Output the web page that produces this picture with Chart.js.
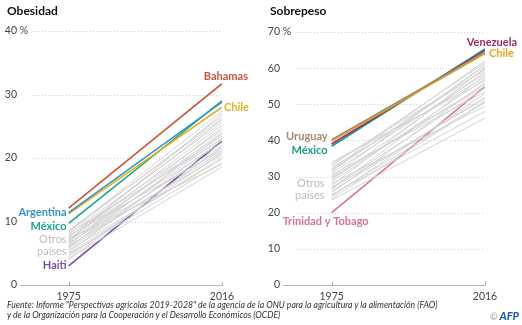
<!DOCTYPE html>
<html>
<head>
<meta charset="utf-8">
<script src="https://cdn.jsdelivr.net/npm/chart.js@4.4.1/dist/chart.umd.min.js"></script>
<style>
  body { margin: 0; background: #fff; font-family: Lato, sans-serif; }
  #wrap { position: relative; width: 522px; height: 325px; overflow: hidden; }
  canvas { position: absolute; top: 0; }
  .title { position: absolute; top: 3px; font-weight: bold; font-size: 12px; color: #111; }
  .foot { position: absolute; left: 7px; font-size: 8.7px; font-style: italic; color: #333; white-space: nowrap; }
  #afp { position: absolute; right: 3px; top: 309px; font-size: 11px; font-weight: 900; font-style: italic; color: #1d5fb4; }
  #afp span { color: #999; font-weight: normal; font-style: normal; font-size: 9px; }
</style>
</head>
<body>
<div id="wrap">
  <canvas id="obesidad" width="260" height="300" style="left:0"></canvas>
  <canvas id="sobrepeso" width="262" height="300" style="left:260px"></canvas>
  <div class="title" style="left:7px">Obesidad</div>
  <div class="title" style="left:270px">Sobrepeso</div>
  <div class="foot" style="top:299px">Fuente: Informe "Perspectivas agrícolas 2019-2028" de la agencia de la ONU para la agricultura y la alimentación (FAO)</div>
  <div class="foot" style="top:309px">y de la Organización para la Cooperación y el Desarrollo Económicos (OCDE)</div>
  <div id="afp"><span>©</span> AFP</div>
</div>
<script>
// DATA
const years = [1975, 2016];

const obesidadPaises = ['Bahamas', 'Argentina', 'Chile', 'México', 'Haiti'];
const obesidad1975 = [12.1, 11.4, 11.2, 9.7, 3.0];
const obesidad2016 = [31.7, 28.8, 28.0, 29.0, 22.7];
const obesidadOtros1975 = [4.2, 4.8, 5.0, 5.5, 5.8, 6.0, 6.2, 6.5, 6.6, 6.8, 7.0, 7.1, 7.3, 7.5, 7.6, 7.8, 8.0, 8.1, 8.3, 8.4, 5.2, 6.3, 4.5, 7.2, 5.9, 8.6, 4.0, 6.9];
const obesidadOtros2016 = [18.6, 19.3, 20.1, 19.8, 21.0, 22.0, 20.5, 23.1, 21.5, 24.0, 22.4, 25.2, 23.5, 26.0, 24.4, 21.2, 25.6, 23.0, 26.6, 27.4, 22.8, 24.8, 20.8, 19.0, 23.8, 26.2, 21.8, 27.0];
const obesidadTicks = [0, 10, 20, 30, 40];

const sobrepesoPaises = ['Uruguay', 'Chile', 'Venezuela', 'México', 'Trinidad y Tobago'];
const sobrepeso1975 = [40.2, 39.8, 39.0, 38.4, 20.0];
const sobrepeso2016 = [64.4, 64.0, 64.9, 65.3, 54.9];
const sobrepesoOtros1975 = [23.5, 24.0, 24.5, 25.0, 25.5, 26.0, 26.5, 27.0, 27.5, 28.0, 28.5, 29.0, 29.5, 30.0, 30.5, 31.0, 31.5, 32.0, 32.5, 33.0, 33.5, 34.0, 26.8, 29.8, 31.8, 24.8];
const sobrepesoOtros2016 = [46.2, 50.5, 53.0, 48.0, 56.0, 52.0, 58.0, 54.5, 60.0, 49.5, 57.0, 59.0, 55.5, 61.0, 53.5, 58.5, 60.5, 62.0, 57.5, 61.5, 59.5, 56.5, 51.5, 55.0, 59.8, 50.8];
const sobrepesoTicks = [0, 10, 20, 30, 40, 50, 60, 70];

const obesidadColores = ['#c9563c', '#3a93c6', '#e3b21f', '#1fa38a', '#7b4ea6'];
const sobrepesoColores = ['#a88a6a', '#e6a920', '#9b2b67', '#1c9c84', '#d9719a'];

const FONT = 'Lato, sans-serif';

function line(a, b) {
  return [{ x: years[0], y: a }, { x: years[1], y: b }];
}

// axis, grid and label drawing
function decorPlugin(ticks, labels, otros) {
  return {
    id: 'decor',
    beforeDatasetsDraw(chart) {
      const ctx = chart.ctx;
      const xs = chart.scales.x, ys = chart.scales.y;
      const area = chart.chartArea;
      ctx.save();
      // dotted grid
      ctx.strokeStyle = '#cfcfcf';
      ctx.lineWidth = 1;
      ctx.setLineDash([1, 2]);
      ticks.forEach(t => {
        if (t === 0) return;
        const y = Math.round(ys.getPixelForValue(t)) + 0.5;
        ctx.beginPath();
        ctx.moveTo(area.left + 13, y);
        ctx.lineTo(area.right, y);
        ctx.stroke();
      });
      ctx.setLineDash([]);
      // bottom axis
      const yb = Math.round(ys.getPixelForValue(0)) + 0.5;
      ctx.strokeStyle = '#b5b5b5';
      ctx.beginPath();
      ctx.moveTo(area.left, yb);
      ctx.lineTo(area.right, yb);
      years.forEach(yr => {
        const x = Math.round(xs.getPixelForValue(yr)) + 0.5;
        ctx.moveTo(x, yb);
        ctx.lineTo(x, yb - 4);
      });
      ctx.stroke();
      // tick labels
      ctx.fillStyle = '#444';
      ctx.font = '10.5px ' + FONT;
      ctx.textBaseline = 'middle';
      ticks.forEach((t, i) => {
        const y = ys.getPixelForValue(t);
        ctx.textAlign = 'right';
        ctx.fillText(String(t), area.left - 3, y);
        if (i === ticks.length - 1) {
          ctx.textAlign = 'left';
          ctx.fillText(' %', area.left - 3, y);
        }
      });
      ctx.textAlign = 'center';
      years.forEach(yr => {
        ctx.fillText(String(yr), xs.getPixelForValue(yr), yb + 11);
      });
      ctx.restore();
    },
    afterDatasetsDraw(chart) {
      const ctx = chart.ctx;
      const xs = chart.scales.x, ys = chart.scales.y;
      ctx.save();
      ctx.textBaseline = 'middle';
      ctx.font = 'bold 11px ' + FONT;
      labels.forEach(l => {
        const ds = chart.data.datasets[l.ds];
        const p = ds.data[l.at];
        ctx.fillStyle = ds.borderColor;
        ctx.textAlign = l.align;
        ctx.fillText(ds.label, xs.getPixelForValue(p.x) + l.dx, ys.getPixelForValue(p.y) + l.dy);
      });
      ctx.font = '11px ' + FONT;
      ctx.fillStyle = '#bdbdbd';
      ctx.textAlign = 'right';
      ['Otros', 'países'].forEach((w, i) => {
        ctx.fillText(w, xs.getPixelForValue(years[0]) + otros.dx, ys.getPixelForValue(otros.y[i]));
      });
      ctx.restore();
    }
  };
}

function panel(id, paises, v1975, v2016, o1975, o2016, colores, ticks, pad, labels, otros) {
  const datasets = [];
  o1975.forEach((v, i) => {
    datasets.push({ label: 'Otros', data: line(v, o2016[i]), borderColor: '#d3d3d3', borderWidth: 1 });
  });
  paises.forEach((p, i) => {
    datasets.push({ label: p, data: line(v1975[i], v2016[i]), borderColor: colores[i], borderWidth: 1.6 });
  });
  const base = o1975.length;
  labels.forEach(l => { l.ds = base + l.i; });
  new Chart(document.getElementById(id), {
    type: 'line',
    data: { datasets },
    options: {
      responsive: false,
      animation: false,
      layout: { padding: pad },
      elements: { point: { radius: 0 }, line: { tension: 0 } },
      plugins: { legend: { display: false }, tooltip: { enabled: false } },
      scales: {
        x: { type: 'linear', min: 1962, max: 2016, display: false },
        y: { min: 0, max: ticks[ticks.length - 1], display: false }
      }
    },
    plugins: [decorPlugin(ticks, labels, otros)]
  });
}

panel('obesidad', obesidadPaises, obesidad1975, obesidad2016, obesidadOtros1975, obesidadOtros2016,
  obesidadColores, obesidadTicks, { left: 20, right: 38, top: 31, bottom: 15 },
  [
    { i: 0, at: 1, dx: 26, dy: -7, align: 'right' },
    { i: 2, at: 1, dx: 2, dy: 0, align: 'left' },
    { i: 1, at: 0, dx: -2, dy: 0, align: 'right' },
    { i: 3, at: 0, dx: -2, dy: 3.5, align: 'right' },
    { i: 4, at: 0, dx: -2, dy: 0, align: 'right' }
  ],
  { dx: -2, y: [7.2, 5.3] });

panel('sobrepeso', sobrepesoPaises, sobrepeso1975, sobrepeso2016, sobrepesoOtros1975, sobrepesoOtros2016,
  sobrepesoColores, sobrepesoTicks, { left: 23, right: 37, top: 32, bottom: 15 },
  [
    { i: 2, at: 1, dx: 32, dy: -8, align: 'right' },
    { i: 1, at: 1, dx: 4, dy: 0, align: 'left' },
    { i: 0, at: 0, dx: -4, dy: -3, align: 'right' },
    { i: 3, at: 0, dx: -4, dy: 4, align: 'right' },
    { i: 4, at: 0, dx: -49, dy: 9, align: 'left' }
  ],
  { dx: -7, y: [28.0, 24.7] });
</script>
</body>
</html>
